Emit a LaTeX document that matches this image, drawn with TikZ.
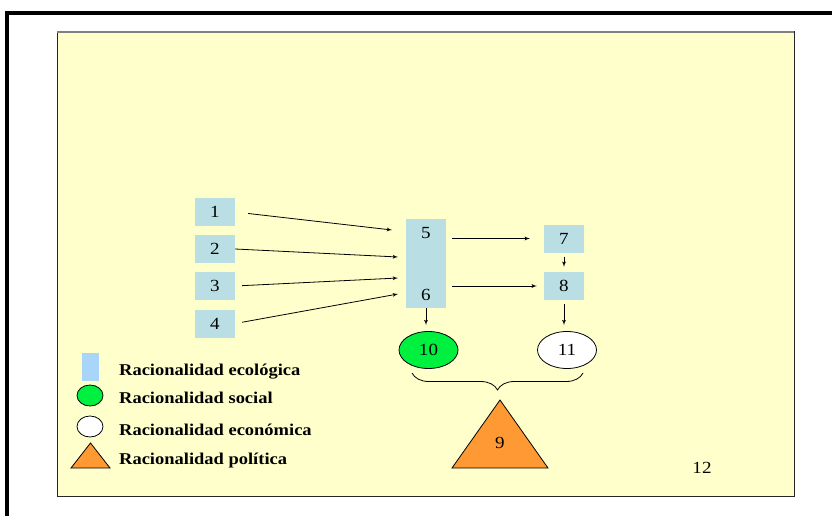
\documentclass[tikz,border=0pt]{standalone}
\usepackage{fontspec}
\setmainfont{Liberation Serif}[FakeStretch=1.12]
\usetikzlibrary{arrows,shapes.geometric,decorations.pathreplacing}
\tikzset{>=latex}

\definecolor{papel}{HTML}{FFFFCC}
\definecolor{ecologica}{HTML}{B9DEE4}
\definecolor{leyazul}{HTML}{A8D5F8}
\definecolor{social}{HTML}{00F040}
\definecolor{politica}{HTML}{FF9933}

\begin{document}
\begin{tikzpicture}[x=1pt,y=-1pt]
			\tikzset{edge/.style = {->,> = latex', line width=0.8pt}}
			\tikzset{numero/.style = {font=\fontsize{17}{19}\selectfont}}
			\tikzset{caja/.style = {numero, rectangle, fill=ecologica, minimum width=40pt, minimum height=28pt, inner sep=0pt}}
			\tikzset{elipse/.style = {numero, ellipse, draw, line width=0.8pt, minimum width=59pt, minimum height=37pt, inner sep=0pt}}
			\tikzset{leyenda/.style = {anchor=west, inner sep=0pt, font=\fontsize{16.5}{19}\selectfont\bfseries}}

			\useasboundingbox (0,0) rectangle (832,516);

			% marco de la pagina y fondo
			\draw[line width=4pt] (7,516) -- (7,13) -- (832,13);
			\draw[fill=papel, draw=black!85, line width=1pt] (57,32) rectangle (794,496);
			\draw[gray, line width=2pt] (57,32) -- (794,32);

			\node[caja] (n1) at (215,212) {1};
			\node[caja] (n2) at (215,249) {2};
			\node[caja] (n3) at (215,286) {3};
			\node[caja] (n4) at (215,323.5) {4};
			\node[caja, minimum height=89pt] (n56) at (426,263.5) {};
			\node[numero] (n5) at (426,233) {5};
			\node[numero] (n6) at (426,295) {6};
			\node[caja] (n7) at (564,238.5) {7};
			\node[caja] (n8) at (564,286) {8};
			\node[elipse, fill=social] (n10) at (428.5,350) {10};
			\node[elipse, fill=white] (n11) at (567,350) {11};

			\fill[politica, draw=black, line width=0.8pt] (500,400) -- (548,468) -- (452,468) -- cycle;
			\node[numero] (n9) at (500,443) {9};
			\node[numero] (n12) at (702,468) {12};

			\coordinate (t1) at (392,230);
			\coordinate (t2) at (398,257);
			\coordinate (t3) at (398,278);
			\coordinate (t4) at (398,294);
			\coordinate (b1) at (412,373);
			\coordinate (b2) at (583,373);

			\draw[edge, shorten <=13pt] (n1.east) to (t1);
			\draw[edge] (n2.east) to (t2);
			\draw[edge, shorten <=7pt] (n3.east) to (t3);
			\draw[edge, shorten <=7pt] (n4.east) to (t4);
			\draw[edge, shorten <=6pt, shorten >=14pt] (n56.east |- n7) to (n7.west);
			\draw[edge, shorten <=6pt, shorten >=7pt] (n56.east |- n8) to (n8.west);
			\draw[edge, shorten <=4pt, shorten >=5pt] (n7) to (n8);
			\draw[edge, shorten >=6pt] (n56.south) to (n56.south |- n10.north);
			\draw[edge, shorten <=4pt, shorten >=6pt] (n8.south) to (n8.south |- n11.north);
			\draw[line width=0.8pt, decorate, decoration={brace, mirror, amplitude=17pt}] (b1) -- (b2);

			% leyenda
			\fill[leyazul] (82,353) rectangle (99,381);
			\node[ellipse, draw, fill=social, line width=0.8pt, minimum width=26pt, minimum height=21pt, inner sep=0pt] (k2) at (90,395.5) {};
			\node[ellipse, draw, fill=white, line width=0.8pt, minimum width=26pt, minimum height=21pt, inner sep=0pt] (k3) at (90,426.5) {};
			\fill[politica, draw=black, line width=0.8pt] (90.5,443) -- (110,468) -- (71,468) -- cycle;
			\node[leyenda] (l1) at (119,372) {Racionalidad ecológica};
			\node[leyenda] (l2) at (119,398) {Racionalidad social};
			\node[leyenda] (l3) at (119,430) {Racionalidad económica};
			\node[leyenda] (l4) at (119,461) {Racionalidad política};
		\end{tikzpicture}
\end{document}
